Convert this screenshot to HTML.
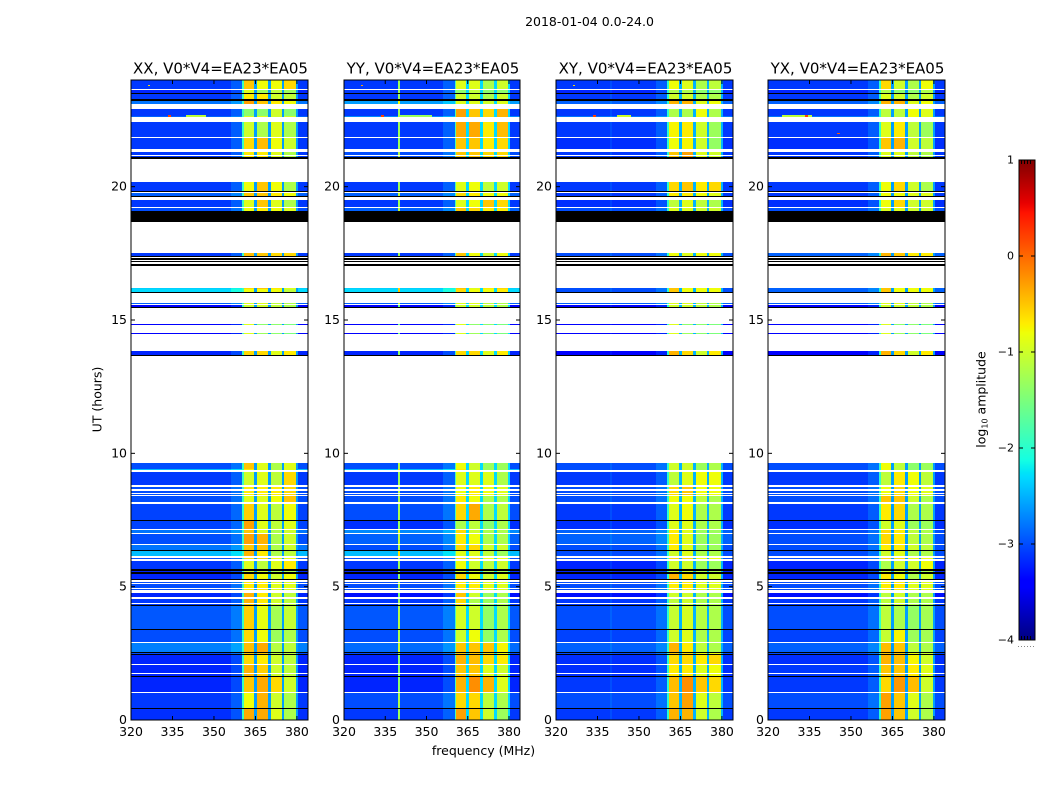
<!DOCTYPE html>
<html lang="en">
<head>
<meta charset="utf-8">
<title>2018-01-04 0.0-24.0</title>
<style>
html,body{margin:0;padding:0;background:#fff}
svg{display:block}
text{font-family:"DejaVu Sans","Liberation Sans",sans-serif;fill:#000}
</style>
</head>
<body>
<svg id="figure" xmlns="http://www.w3.org/2000/svg" width="1050" height="800" viewBox="0 0 1050 800">
  <rect x="0" y="0" width="1050" height="800" fill="#fff"/>
  <text x="589.5" y="26" font-size="12.5" text-anchor="middle">2018-01-04 0.0-24.0</text>
  <text x="483.5" y="755" font-size="12.5" text-anchor="middle">frequency (MHz)</text>
  <text transform="translate(101.5,399.5) rotate(-90)" font-size="12.5" text-anchor="middle">UT (hours)</text>
  <text transform="translate(985.5,399.5) rotate(-90)" font-size="12.5" text-anchor="middle">log<tspan font-size="8" dy="2">10</tspan><tspan dy="-2"> amplitude</tspan></text>
  <g id="panels"></g>
  <g id="colorbar"></g>
  <line x1="1021" y1="162" x2="1033" y2="162" stroke="#000" stroke-width="4" stroke-dasharray="1 2"/>
  <line x1="1021" y1="638" x2="1033" y2="638" stroke="#000" stroke-width="4" stroke-dasharray="1 2"/>
  <line x1="1018" y1="646.5" x2="1035" y2="646.5" stroke="#888" stroke-width="1" stroke-dasharray="1 2"/>
</svg>
<script>
const panelTitles = ['XX, V0*V4=EA23*EA05', 'YY, V0*V4=EA23*EA05', 'XY, V0*V4=EA23*EA05', 'YX, V0*V4=EA23*EA05'];
const xTicks = [320, 335, 350, 365, 380];
const yTicks = [0, 5, 10, 15, 20];
const colorbarTicks = [1, 0, -1, -2, -3, -4];

// frequency channels (MHz)
const freqEdges = [320, 339.7, 340.3, 356, 360.2, 360.7, 364.5, 365.5, 369.5, 370.5, 374.5, 375.5, 379.6, 380.4, 384];
const channelGroups = ['low', 'line', 'low', 'rise', 'edge', 'w1', 'gap', 'w2', 'gap', 'w3', 'gap', 'w4', 'gap', 'low'];

// per-panel levels for special channels (log10 amplitude)
const gapLevels = [-2.6, -2.3, -2.5, -2.6];
const line340Boost = [0, 1.8, 0.1, 0];
const riseBoost = [0.18, 0.2, 0.18, 0.18];
const edgeLevels = [-1.9, -1.8, -2.0, -2.0];

// UT ranges containing data, [top hour, bottom hour]
const rowHours = [
[24,23.66],[23.625,23.51],[23.475,23.29],[23.21,23.10],[22.91,22.66],[22.66,22.61],[22.43,21.88],[21.84,21.41],
[21.30,21.19],[21.15,21.11],[20.18,19.84],[19.76,19.65],[19.50,19.24],[19.20,19.09],[17.51,17.40],[16.20,16.15],
[16.15,16.06],[15.64,15.59],[15.55,15.48],[14.85,14.81],[14.51,14.48],[13.84,13.69],[9.64,9.43],[9.43,9.38],
[9.29,8.81],[8.74,8.66],[8.59,8.52],[8.48,8.44],[8.39,8.19],[8.11,7.49],[7.46,7.16],[7.11,7.01],
[6.96,6.60],[6.56,6.38],[6.34,6.15],[6.06,6.02],[5.96,5.65],[5.59,5.55],[5.49,5.29],[5.18,5.14],
[5.10,5.04],[5.01,4.95],[4.91,4.88],[4.76,4.61],[4.54,4.39],[4.34,4.30],[4.28,3.40],[3.38,2.93],
[2.89,2.54],[2.50,2.46],[2.44,2.10],[2.06,1.76],[1.73,1.65],[1.62,1.05],[1.01,0.44],[0.41,0]
];

// black (below range) UT ranges
const blackBands = [
[23.51,23.475],[23.29,23.21],[21.11,21.09],[21.06,21.03],[19.84,19.80],[19.65,19.61],[19.09,18.68],
[17.40,17.35],[17.31,17.26],[17.22,17.18],[17.11,17.04],[16.06,16.02],[15.48,15.45],[13.69,13.65],
[7.49,7.46],[6.38,6.34],[5.65,5.59],[5.55,5.49],[5.29,5.25],[4.30,4.28],[3.40,3.38],[2.54,2.50],
[2.46,2.44],[1.65,1.62],[0.44,0.41]
];

// levels per row: low band, window 1, window 2, window 3, window 4
const xxLevels = [
[-3.1,-.5,-.8,-.8,-.6],[-3.2,-.9,-1.3,-1.1,-1.3],[-3.1,-.7,-.7,-1,-1.1],[-2.8,-.3,-.5,-.7,-.8],
[-3.1,-1.4,-1.4,-1,-1.4],[-2.9,-.9,-.9,-1,-1],[-3.1,-1,-1.2,-.9,-1.2],[-3.1,-.6,-.45,-.8,-1],
[-3.1,-.7,-.7,-.9,-1.2],[-3.1,-.7,-.7,-.9,-1.2],[-3.1,-.8,-.5,-.8,-1.2],[-2.9,-.5,-.5,-.7,-.8],
[-3.1,-.9,-.5,-.9,-1.2],[-3,-.8,-.7,-.8,-.9],[-3.1,-.45,-.5,-.6,-.6],[-2.35,-.6,-.5,-.7,-.9],
[-2.3,-.8,-.8,-.8,-1.1],[-2.9,-.9,-.9,-1.1,-1.2],[-3.4,-1,-1,-1.1,-1.2],[-3.4,-.9,-1.4,-1.4,-1.5],
[-3.4,-.9,-1.3,-1.4,-1.5],[-3.2,-.6,-.6,-.9,-.7],[-3,-.5,-.9,-1.2,-.9],[-2.45,-.7,-.9,-1.2,-.9],
[-3.1,-1,-.9,-1.1,-.6],[-3,-.7,-.7,-.7,-.6],[-3,-.7,-.7,-.7,-.6],[-3,-.7,-.7,-.7,-.6],
[-3,-.9,-.9,-.8,-.5],[-3.05,-.55,-.9,-1.1,-.8],[-3.05,-.3,-.9,-1.1,-.9],[-2.8,-.5,-.9,-1.2,-1],
[-3,-.3,-.4,-1.2,-1],[-2.8,-.5,-.5,-1.2,-1],[-2.45,-.4,-.7,-1.2,-1.1],[-3,-.6,-.6,-.8,-.8],
[-3.1,-.9,-1.1,-.9,-.7],[-3.2,-1,-1,-1.2,-1.2],[-3.2,-.6,-.8,-1,-.8],[-3,-.7,-.7,-.9,-.9],
[-3,-.7,-.7,-.9,-.9],[-3,-.7,-.7,-.9,-.9],[-3,-.7,-.7,-.9,-.9],[-3.2,-.4,-.7,-1,-1.1],
[-3.1,-.4,-.7,-1,-1.1],[-3.1,-.5,-.7,-1,-1.1],[-2.95,-.55,-.85,-1.25,-1.05],[-3,-.6,-.8,-1.3,-1.2],
[-2.75,-.45,-.35,-1.15,-1.1],[-3,-.5,-.5,-1.1,-1.1],[-3.2,-.6,-.7,-1,-1.1],[-3.2,-.4,-.55,-1,-1.1],
[-3.2,-.4,-.55,-1,-1.1],[-3.2,-.5,-.35,-.6,-1],[-3.1,-.8,-.4,-1,-1.2],[-3.15,-.35,-.35,-.9,-1.2]
];
const yyLevels = [
[-3.1,-.9,-.9,-1.2,-1],[-3.1,-1.4,-1.1,-1.4,-1.4],[-3.1,-1,-1,-1.2,-1],[-2.6,-.9,-.9,-1,-.9],
[-3.1,-.3,-.5,-.6,-.4],[-2.7,-.3,-.5,-.6,-.4],[-3.1,-.35,-.35,-.7,-.45],[-3.1,-.5,-.5,-.7,-.6],
[-3,-.5,-.5,-.6,-.6],[-3,-.5,-.5,-.6,-.6],[-3.1,-.9,-.8,-1.1,-1],[-2.9,-.6,-.7,-.8,-.8],
[-3.1,-.9,-.8,-.5,-.6],[-2.9,-.5,-.6,-.7,-.7],[-3.1,-.5,-.8,-1,-.8],[-2.35,-.5,-.9,-.7,-.6],
[-2.3,-.6,-.8,-.8,-.7],[-2.9,-.9,-.9,-1.1,-1.2],[-3.4,-1,-1,-1.1,-1.2],[-3.4,-.9,-1.4,-1.4,-1.5],
[-3.4,-.9,-1.3,-1.4,-1.5],[-3.2,-.6,-.6,-.9,-.7],[-3,-.8,-1,-1.3,-1.3],[-2.45,-.7,-1,-1.3,-1.3],
[-3.1,-.9,-.9,-.9,-1.2],[-3,-.8,-.7,-.8,-.9],[-3,-.8,-.7,-.8,-.9],[-3,-.8,-.7,-.8,-.9],
[-3,-.7,-.8,-1.2,-1.2],[-3,-.6,-.35,-1.2,-1.1],[-3.15,-1.2,-1.1,-1.4,-1.2],[-2.7,-.6,-1,-1.2,-1.2],
[-2.9,-.7,-.8,-1.2,-1.2],[-3,-.6,-.6,-1,-1],[-2.45,-.9,-.9,-1.1,-1.3],[-3,-.6,-.6,-.8,-.8],
[-3.1,-.8,-1,-1.1,-1],[-3.2,-1,-1,-1.2,-1.2],[-3.2,-.6,-.8,-1,-.9],[-3,-.7,-.7,-.9,-.9],
[-3,-.7,-.7,-.9,-.9],[-3,-.7,-.7,-.9,-.9],[-3,-.7,-.7,-.9,-.9],[-3.3,-.5,-1,-1.3,-1.2],
[-3.1,-.6,-1.2,-1.3,-1.2],[-3.1,-.6,-1.2,-1.3,-1.2],[-2.95,-.95,-1,-1.35,-1.2],[-3,-1,-.8,-1.35,-1.2],
[-2.85,-.5,-.5,-.5,-.75],[-3,-.5,-.5,-.6,-.8],[-3.2,-.4,-.45,-.6,-.7],[-3.2,-.5,-.5,-.9,-1],
[-3.2,-.5,-.5,-.9,-1],[-3.2,-.4,-.2,-.4,-.9],[-3,-.6,-.6,-1.1,-1.2],[-3.1,-.3,-.5,-1,-1.3]
];
const xyLevels = [
[-3.1,-.8,-.9,-1.2,-1.1],[-3.2,-1.2,-1.2,-1.4,-1.4],[-3.1,-1,-1,-1.2,-1.2],[-2.9,-.4,-.4,-.9,-.8],
[-3.1,-1.2,-1.2,-.8,-1.2],[-2.8,-1.2,-1.2,-.8,-1.2],[-3.1,-.75,-.7,-1,-1.3],[-3.15,-.8,-.75,-1,-1.35],
[-3.1,-.5,-.3,-.9,-1],[-3.1,-.5,-.3,-.9,-1],[-3.1,-.6,-.5,-.7,-.6],[-3.1,-.7,-.7,-.8,-.9],
[-3.15,-1.1,-.9,-1.1,-1.2],[-3,-.9,-.9,-1,-1],[-3,-.8,-.9,-.8,-.8],[-3,-.5,-.8,-.8,-.8],
[-3,-.5,-.8,-.8,-.8],[-2.9,-.9,-.9,-1.1,-1.2],[-3.4,-1,-1,-1.1,-1.2],[-3.4,-.9,-1.4,-1.4,-1.5],
[-3.4,-.9,-1.3,-1.4,-1.5],[-3.4,-.4,-.6,-1,-.7],[-3,-1,-1,-1.3,-1.2],[-3,-1,-1,-1.3,-1.2],
[-3.1,-1.1,-.9,-.8,-.8],[-3,-.6,-.5,-.8,-.8],[-3,-.6,-.5,-.8,-.8],[-3,-.6,-.5,-.8,-.8],
[-3,-.8,-.8,-1.1,-1.2],[-3.1,-.9,-.8,-1.2,-1.2],[-3.15,-.9,-.9,-1.2,-1.2],[-2.9,-.7,-.9,-1.3,-1.3],
[-2.9,-.7,-.9,-1.3,-1.3],[-3,-.7,-.9,-1.3,-1.3],[-3,-1,-.9,-1.2,-1.2],[-3,-.6,-.6,-.8,-.8],
[-3.2,-1,-1,-1.3,-1.3],[-3.2,-1,-1,-1.2,-1.2],[-3.2,-.4,-.6,-1,-1],[-3,-.7,-.7,-.9,-.9],
[-3,-.7,-.7,-.9,-.9],[-3,-.7,-.7,-.9,-.9],[-3,-.7,-.7,-.9,-.9],[-3.3,-1,-1,-1.2,-1.2],
[-3.1,-1.1,-1,-1.2,-1.2],[-3.1,-1.1,-1,-1.2,-1.2],[-3,-1.05,-.95,-1.15,-1.2],[-3.05,-1,-.9,-1.2,-1.2],
[-2.9,-.4,-.7,-1.1,-1.2],[-3,-.5,-.6,-.8,-.8],[-3.15,-.6,-.6,-.7,-.6],[-3.15,-.7,-.7,-.9,-.8],
[-3.15,-.7,-.7,-.9,-.8],[-3.1,-.45,-.2,-.5,-.6],[-3,-.5,-.3,-.9,-1.1],[-3.1,-.4,-.4,-1,-1.2]
];
const yxLevels = [
[-3.1,-.6,-1,-1.2,-.8],[-3.2,-1.2,-1.4,-1.4,-1.2],[-3.1,-.9,-1,-1.2,-1],[-2.9,-.4,-.4,-.9,-.8],
[-3.1,-1.1,-1.1,-.8,-.9],[-2.8,-1.1,-1.1,-.8,-.9],[-3.1,-.9,-.7,-1.1,-1.3],[-3.15,-.5,-.4,-1,-1.1],
[-3.1,-.9,-.9,-1.1,-1.2],[-3.1,-.9,-.9,-1.1,-1.2],[-3.1,-.8,-.6,-1,-1.2],[-3.1,-.8,-.8,-.9,-.9],
[-3.15,-.8,-.6,-1,-1],[-3,-.9,-.9,-1,-1],[-2.9,-.4,-.5,-.7,-.7],[-2.9,-.5,-.8,-.8,-.8],
[-2.9,-.5,-.8,-.8,-.8],[-2.9,-.9,-.9,-1.1,-1.2],[-3.4,-1,-1,-1.1,-1.2],[-3.4,-.9,-1.4,-1.4,-1.5],
[-3.4,-.9,-1.3,-1.4,-1.5],[-3.4,-.4,-.6,-1,-.7],[-3,-.8,-1.1,-1.4,-1.3],[-3,-.8,-1.1,-1.4,-1.3],
[-3.1,-1.1,-.7,-.8,-1.1],[-3,-.8,-.6,-.8,-.9],[-3,-.8,-.6,-.8,-.9],[-3,-.8,-.6,-.8,-.9],
[-3,-.5,-.5,-1,-1.2],[-3.1,-.7,-.6,-1.2,-1.2],[-3.15,-1,-.9,-1.3,-1.3],[-3,-.6,-.7,-1.1,-1.2],
[-3,-.6,-.7,-1.1,-1.2],[-3,-.7,-.7,-1,-1.1],[-3,-1,-.9,-1.2,-1.2],[-3,-.6,-.6,-.8,-.8],
[-3.2,-1.2,-1,-1,-.8],[-3.2,-1,-1,-1.2,-1.2],[-3.2,-.7,-.8,-1.2,-1],[-3,-.7,-.7,-.9,-.9],
[-3,-.7,-.7,-.9,-.9],[-3,-.7,-.7,-.9,-.9],[-3,-.7,-.7,-.9,-.9],[-3.3,-1.1,-1,-1.2,-1.2],
[-3.1,-1.1,-1,-1.2,-1.2],[-3.1,-1.1,-1,-1.2,-1.2],[-3,-1.1,-1.2,-1.35,-1.25],[-3.05,-1.05,-.75,-1.3,-1.25],
[-2.9,-.45,-.5,-1.1,-1.2],[-3,-.5,-.5,-.8,-1],[-3.15,-.4,-.45,-.75,-1],[-3.1,-.5,-.5,-.7,-.9],
[-3.1,-.5,-.5,-.7,-.9],[-3.1,-.6,-.25,-.45,-1],[-3,-.3,-.5,-.9,-1.2],[-3.1,-.3,-.5,-1,-1.2]
];

// isolated interference spots: panel, MHz from, MHz to, UT hour, level
const spotPanels = [0, 0, 0, 1, 1, 1, 2, 2, 2, 3, 3, 3];
const spotFreqFrom = [340, 333.5, 326, 340, 333.5, 326, 342, 333.5, 326, 325, 333.5, 345];
const spotFreqTo = [347, 334.5, 327, 352, 334.5, 327, 347, 334.5, 327, 336, 334.5, 346];
const spotHours = [22.64, 22.64, 23.8, 22.64, 22.64, 23.8, 22.64, 22.64, 23.8, 22.64, 22.64, 22.0];
const spotValues = [-1.1, 0.2, -0.6, -1.3, 0.2, -0.3, -1, 0.2, -0.6, -1.1, 0.2, 0.1];

const panelLevels = [xxLevels, yyLevels, xyLevels, yxLevels];
const panelNames = ['xx', 'yy', 'xy', 'yx'];
const panelLeft = [131, 344, 556, 768];
const panelRight = [308, 520, 733, 945];
const axisTop = 80, axisBottom = 720, hourMax = 24, freqMin = 320, freqMax = 384;
const cbLeft = 1019, cbRight = 1035, cbTop = 160, cbBottom = 640, cbMin = -4, cbMax = 1;
const SVGNS = 'http://www.w3.org/2000/svg';

function xScale(panel, mhz) {
  return panelLeft[panel] + (mhz - freqMin) / (freqMax - freqMin) * (panelRight[panel] - panelLeft[panel]);
}
function yScale(hour) {
  return axisBottom - hour / hourMax * (axisBottom - axisTop);
}
function cbScale(value) {
  return cbBottom - (value - cbMin) / (cbMax - cbMin) * (cbBottom - cbTop);
}
function ramp(f, pts) {
  for (let i = 1; i < pts.length; i++) {
    if (f <= pts[i][0]) {
      const a = pts[i - 1], b = pts[i];
      return a[1] + (f - a[0]) / (b[0] - a[0]) * (b[1] - a[1]);
    }
  }
  return pts[pts.length - 1][1];
}
function jet(value) {
  if (value < cbMin) return '#000';
  const f = Math.min(1, (value - cbMin) / (cbMax - cbMin));
  const r = ramp(f, [[0, 0], [.35, 0], [.66, 1], [.89, 1], [1, .5]]);
  const g = ramp(f, [[0, 0], [.125, 0], [.375, 1], [.64, 1], [.91, 0], [1, 0]]);
  const b = ramp(f, [[0, .5], [.11, 1], [.34, 1], [.65, 0], [1, 0]]);
  return 'rgb(' + Math.round(r * 255) + ',' + Math.round(g * 255) + ',' + Math.round(b * 255) + ')';
}
function svgEl(tag, parent) {
  const el = document.createElementNS(SVGNS, tag);
  parent.appendChild(el);
  return el;
}
function channelValue(panel, group, levels) {
  if (group === 'low') return levels[0];
  if (group === 'line') return levels[0] + line340Boost[panel];
  if (group === 'rise') return levels[0] + riseBoost[panel];
  if (group === 'edge') return edgeLevels[panel];
  if (group === 'gap') return gapLevels[panel];
  return levels[Number(group.slice(1))];
}
function crispRect(parent, x0, x1, y0, y1, fill) {
  const r = svgEl('rect', parent);
  const top = Math.round(y0);
  const left = Math.round(x0);
  r.setAttribute('x', left);
  r.setAttribute('y', top);
  r.setAttribute('width', Math.max(1, Math.round(x1) - left));
  r.setAttribute('height', Math.max(1, Math.round(y1) - top));
  r.setAttribute('fill', fill);
  r.setAttribute('shape-rendering', 'crispEdges');
  return r;
}
function line(parent, x1, y1, x2, y2) {
  const l = svgEl('line', parent);
  l.setAttribute('x1', x1);
  l.setAttribute('y1', y1);
  l.setAttribute('x2', x2);
  l.setAttribute('y2', y2);
  l.setAttribute('stroke', '#000');
  l.setAttribute('stroke-width', '1');
  return l;
}
function label(parent, x, y, str, anchor, size) {
  const t = svgEl('text', parent);
  t.setAttribute('x', x);
  t.setAttribute('y', y);
  t.setAttribute('text-anchor', anchor);
  t.setAttribute('font-size', size);
  t.textContent = str;
  return t;
}

const panelsRoot = document.getElementById('panels');
panelLevels.forEach(function (levelRows, p) {
  const g = svgEl('g', panelsRoot);
  
  

  rowHours.forEach(function (row, r) {
    channelGroups.forEach(function (group, c) {
      const cell = crispRect(g, xScale(p, freqEdges[c]), xScale(p, freqEdges[c + 1]), yScale(row[0]), yScale(row[1]), jet(channelValue(p, group, levelRows[r])));
      
      
    });
  });

  blackBands.forEach(function (band) {
    const b = crispRect(g, panelLeft[p], panelRight[p], yScale(band[0]), yScale(band[1]), '#000');
    
    
  });

  spotPanels.forEach(function (sp, i) {
    if (sp !== p) return;
    const s = crispRect(g, xScale(p, spotFreqFrom[i]), xScale(p, spotFreqTo[i]), yScale(spotHours[i] + 0.03), yScale(spotHours[i] - 0.03), jet(spotValues[i]));
    
    
  });

  const frame = svgEl('rect', g);
  
  
  frame.setAttribute('x', panelLeft[p]);
  frame.setAttribute('y', axisTop);
  frame.setAttribute('width', panelRight[p] - panelLeft[p]);
  frame.setAttribute('height', axisBottom - axisTop);
  frame.setAttribute('fill', 'none');
  frame.setAttribute('stroke', '#000');
  frame.setAttribute('stroke-width', '1');

  const title = label(g, (panelLeft[p] + panelRight[p]) / 2 + 1, 73.5, panelTitles[p], 'middle', 15);
  
  

  xTicks.forEach(function (v) {
    const x = xScale(p, v);
    const t1 = line(g, x, axisBottom, x, axisBottom - 4);
    
    
    const t2 = line(g, x, axisTop, x, axisTop + 4);
    
    
    const tl = label(g, x, 736, String(v), 'middle', 12.5);
    
    
  });

  yTicks.forEach(function (v) {
    const y = yScale(v);
    const t1 = line(g, panelLeft[p], y, panelLeft[p] + 4, y);
    
    
    const t2 = line(g, panelRight[p], y, panelRight[p] - 4, y);
    
    
    const tl = label(g, panelLeft[p] - 4, y + 4, String(v), 'end', 12.5);
    
    
  });
});

const cbRoot = document.getElementById('colorbar');
for (let py = cbTop; py < cbBottom; py++) {
  const value = cbMax - (py + 0.5 - cbTop) / (cbBottom - cbTop) * (cbMax - cbMin);
  const slice = crispRect(cbRoot, cbLeft, cbRight, py, py + 1, jet(value));
  
  
}
const cbFrame = svgEl('rect', cbRoot);


cbFrame.setAttribute('x', cbLeft);
cbFrame.setAttribute('y', cbTop);
cbFrame.setAttribute('width', cbRight - cbLeft);
cbFrame.setAttribute('height', cbBottom - cbTop);
cbFrame.setAttribute('fill', 'none');
cbFrame.setAttribute('stroke', '#000');
cbFrame.setAttribute('stroke-width', '1');

colorbarTicks.forEach(function (v) {
  const y = cbScale(v);
  const t1 = line(cbRoot, cbLeft, y, cbLeft + 4, y);
  
  
  const t2 = line(cbRoot, cbRight, y, cbRight - 4, y);
  
  
  const tl = label(cbRoot, cbLeft - 5, y + 3.5, String(v).replace('-', '\u2212'), 'end', 11);
  
  
});
</script>
</body>
</html>
